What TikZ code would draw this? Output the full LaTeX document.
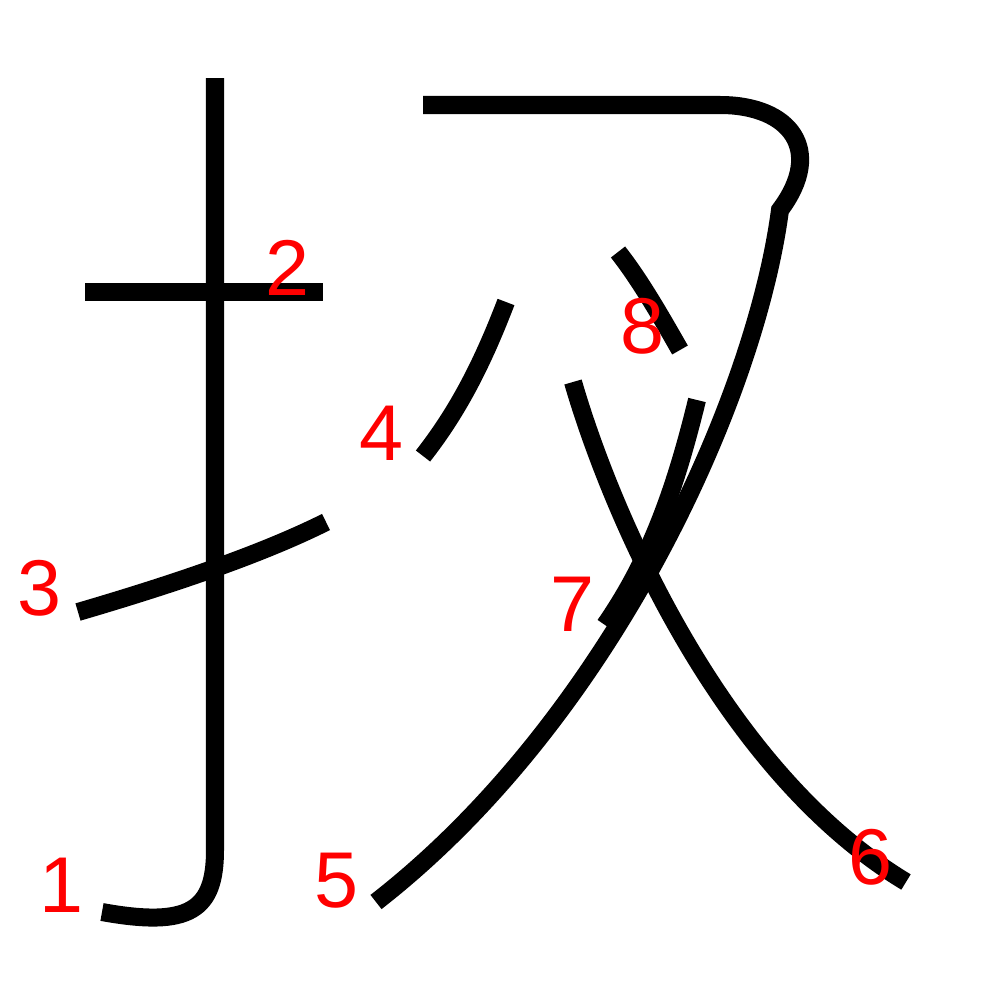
\documentclass[tikz,border=0pt]{standalone}
\usepackage{fontspec}
\setmainfont{Liberation Sans}
\usepackage{xcolor}
\definecolor{strokeBlack}{RGB}{0,0,0}
\definecolor{numRed}{RGB}{255,0,0}

\begin{document}
\begin{tikzpicture}[
  x=0.01cm, y=-0.01cm,
  stroke/.style={draw=strokeBlack, line width=0.18cm, line cap=butt,
                 line join=miter},
  num/.style={text=numRed, anchor=base, inner sep=0pt,
              font=\fontsize{22.5pt}{27pt}\selectfont}
]
  \useasboundingbox (0,0) rectangle (1000,1000);

  % strokes
  \draw[stroke] (215,78) -- (215,850)
    .. controls (215,910) and (190,928) .. (102,912);
  \draw[stroke] (85,292) -- (323,292);
  \draw[stroke] (78,612) .. controls (170,585) and (260,555) .. (326,522);
  \draw[stroke] (506,302) .. controls (480,370) and (455,415) .. (423,456);
  \draw[stroke] (423,105) -- (720,105)
    .. controls (790,105) and (825,150) .. (780,210)
    .. controls (755,400) and (610,720) .. (376,902);
  \draw[stroke] (573,382) .. controls (610,510) and (720,770) .. (906,882);
  \draw[stroke] (697,400) .. controls (675,490) and (650,560) .. (605,625);
  \draw[stroke] (618,252) .. controls (640,280) and (660,315) .. (680,350);

  % stroke numbers
  \node[num] (n1) at (62,912) {1};
  \node[num] (n2) at (287,295) {2};
  \node[num] (n3) at (40,615) {3};
  \node[num] (n4) at (381,460) {4};
  \node[num] (n5) at (336,907) {5};
  \node[num] (n6) at (870,884) {6};
  \node[num] (n7) at (572,631) {7};
  \node[num] (n8) at (642,353) {8};
\end{tikzpicture}
\end{document}
